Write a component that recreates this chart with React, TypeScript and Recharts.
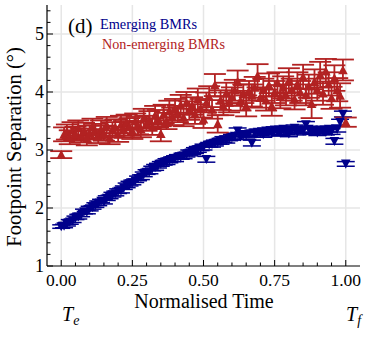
import React from 'react';
import { ScatterChart, Scatter, XAxis, YAxis, ErrorBar, ReferenceLine } from 'recharts';

const times = [
  0.00, 0.01, 0.02, 0.03, 0.04, 0.05, 0.06, 0.07, 0.08, 0.09,
  0.10, 0.11, 0.12, 0.13, 0.14, 0.15, 0.16, 0.17, 0.18, 0.19,
  0.20, 0.21, 0.22, 0.23, 0.24, 0.25, 0.26, 0.27, 0.28, 0.29,
  0.30, 0.31, 0.32, 0.33, 0.34, 0.35, 0.36, 0.37, 0.38, 0.39,
  0.40, 0.41, 0.42, 0.43, 0.44, 0.45, 0.46, 0.47, 0.48, 0.49,
  0.50, 0.51, 0.52, 0.53, 0.54, 0.55, 0.56, 0.57, 0.58, 0.59,
  0.60, 0.61, 0.62, 0.63, 0.64, 0.65, 0.66, 0.67, 0.68, 0.69,
  0.70, 0.71, 0.72, 0.73, 0.74, 0.75, 0.76, 0.77, 0.78, 0.79,
  0.80, 0.81, 0.82, 0.83, 0.84, 0.85, 0.86, 0.87, 0.88, 0.89,
  0.90, 0.91, 0.92, 0.93, 0.94, 0.95, 0.96, 0.97, 0.98, 0.99,
  1.00,
];

const emerging = [
  1.68, 1.69, 1.72, 1.76, 1.78, 1.83, 1.85, 1.88, 1.94, 1.93,
  1.99, 2.01, 2.05, 2.08, 2.12, 2.11, 2.17, 2.19, 2.23, 2.25,
  2.29, 2.30, 2.35, 2.39, 2.42, 2.44, 2.47, 2.51, 2.53, 2.58,
  2.62, 2.63, 2.68, 2.70, 2.73, 2.76, 2.78, 2.80, 2.82, 2.84,
  2.85, 2.88, 2.88, 2.90, 2.92, 2.95, 2.96, 2.99, 3.01, 3.03,
  3.05, 2.84, 3.09, 3.10, 3.12, 3.14, 3.15, 3.18, 3.17, 3.20,
  3.22, 3.24, 3.33, 3.23, 3.27, 3.26, 3.28, 3.12, 3.29, 3.31,
  3.30, 3.27, 3.33, 3.31, 3.29, 3.35, 3.32, 3.30, 3.36, 3.32,
  3.28, 3.34, 3.38, 3.31, 3.35, 3.33, 3.44, 3.36, 3.32, 3.34,
  3.30, 3.35, 3.33, 3.31, 3.36, 3.32, 3.15, 3.36, 3.48, 3.62,
  2.76,
];

const emergingErr = [
  0.03, 0.03, 0.03, 0.04, 0.03, 0.03, 0.04, 0.03, 0.04, 0.03,
  0.04, 0.03, 0.04, 0.04, 0.03, 0.04, 0.04, 0.03, 0.04, 0.04,
  0.04, 0.04, 0.03, 0.04, 0.04, 0.04, 0.03, 0.04, 0.04, 0.04,
  0.04, 0.04, 0.04, 0.05, 0.04, 0.04, 0.04, 0.05, 0.04, 0.04,
  0.05, 0.04, 0.04, 0.05, 0.04, 0.05, 0.04, 0.05, 0.05, 0.04,
  0.05, 0.05, 0.04, 0.05, 0.05, 0.04, 0.05, 0.05, 0.05, 0.04,
  0.05, 0.05, 0.05, 0.05, 0.04, 0.05, 0.05, 0.05, 0.05, 0.05,
  0.05, 0.05, 0.05, 0.04, 0.05, 0.05, 0.05, 0.05, 0.05, 0.05,
  0.05, 0.05, 0.05, 0.05, 0.05, 0.05, 0.05, 0.05, 0.05, 0.05,
  0.05, 0.05, 0.05, 0.05, 0.05, 0.05, 0.05, 0.05, 0.05, 0.05,
  0.04,
];

const nonEmerging = [
  2.92, 3.27, 3.31, 3.22, 3.34, 3.28, 3.38, 3.25, 3.33, 3.21,
  3.30, 3.40, 3.32, 3.24, 3.36, 3.29, 3.43, 3.22, 3.35, 3.39,
  3.27, 3.44, 3.36, 3.48, 3.40, 3.33, 3.50, 3.42, 3.36, 3.55,
  3.46, 3.52, 3.40, 3.60, 3.54, 3.28, 3.62, 3.50, 3.68, 3.58,
  3.72, 3.62, 3.78, 3.56, 3.82, 3.68, 3.76, 3.62, 3.88, 3.72,
  3.53, 3.82, 3.92, 3.70, 4.12, 3.45, 3.86, 3.76, 3.98, 3.82,
  3.92, 4.03, 4.18, 3.85, 3.97, 3.76, 4.02, 3.94, 4.08, 4.28,
  3.90, 4.04, 3.86, 4.12, 3.76, 4.00, 4.16, 3.92, 4.08, 3.95,
  4.20, 4.04, 3.88, 4.14, 4.00, 4.26, 3.95, 4.10, 3.80, 4.18,
  4.04, 4.30, 3.98, 4.36, 4.14, 3.90, 4.24, 4.04, 3.94, 4.38,
  3.48,
];

const nonEmergingErr = [
  0.06, 0.12, 0.13, 0.12, 0.14, 0.12, 0.13, 0.12, 0.14, 0.13,
  0.12, 0.14, 0.13, 0.12, 0.15, 0.13, 0.14, 0.12, 0.13, 0.14,
  0.13, 0.15, 0.14, 0.13, 0.15, 0.14, 0.13, 0.15, 0.14, 0.16,
  0.13, 0.15, 0.14, 0.16, 0.15, 0.13, 0.16, 0.14, 0.17, 0.15,
  0.16, 0.14, 0.17, 0.15, 0.18, 0.16, 0.15, 0.17, 0.18, 0.16,
  0.15, 0.17, 0.18, 0.16, 0.19, 0.15, 0.17, 0.16, 0.18, 0.17,
  0.16, 0.18, 0.19, 0.17, 0.16, 0.18, 0.17, 0.19, 0.18, 0.20,
  0.17, 0.19, 0.18, 0.20, 0.17, 0.19, 0.18, 0.20, 0.19, 0.18,
  0.21, 0.19, 0.18, 0.20, 0.19, 0.21, 0.18, 0.20, 0.25, 0.21,
  0.19, 0.22, 0.20, 0.21, 0.20, 0.19, 0.22, 0.20, 0.21, 0.18,
  0.08,
];

const xMajorTicks = [0, 0.25, 0.5, 0.75, 1];
const xAllTicks = [
  0, 0.05, 0.1, 0.15, 0.2, 0.25, 0.3, 0.35, 0.4, 0.45, 0.5,
  0.55, 0.6, 0.65, 0.7, 0.75, 0.8, 0.85, 0.9, 0.95, 1,
];
const xTickLabels = ['0.00', '0.25', '0.50', '0.75', '1.00'];
const yMajorTicks = [1, 2, 3, 4, 5];
const yAllTicks = [
  1, 1.2, 1.4, 1.6, 1.8, 2, 2.2, 2.4, 2.6, 2.8, 3, 3.2, 3.4, 3.6, 3.8,
  4, 4.2, 4.4, 4.6, 4.8, 5, 5.2, 5.4,
];
const yGridValues = [2, 3, 4, 5];

const RED = '#b22222';
const BLUE = '#00008b';
const FONT = 'Liberation Serif, Times New Roman, Times, serif';
const TXT: React.CSSProperties = { fontFamily: FONT };

const emergingData = times.map((t, i) => ({ t, v: emerging[i], e: emergingErr[i] }));
const nonEmergingData = times.map((t, i) => ({ t, v: nonEmerging[i], e: nonEmergingErr[i] }));

const isMajorX = (v: number) => xMajorTicks.some((m) => Math.abs(m - v) < 1e-6);
const isMajorY = (v: number) => yMajorTicks.some((m) => Math.abs(m - v) < 1e-6);

const MAJ = 6;
const MIN = 3.5;

const BottomTick = (props: any) => {
  const { x, y, payload } = props;
  const v = payload.value as number;
  const major = isMajorX(v);
  const idx = xMajorTicks.findIndex((m) => Math.abs(m - v) < 1e-6);
  return (
    <g>
      <line x1={x} x2={x} y1={y} y2={y - (major ? MAJ : MIN)} stroke="#000" strokeWidth={1} />
      {major && (
        <text x={x} y={y + 20} textAnchor="middle" fontSize={17.5} style={TXT} fill="#000">
          {xTickLabels[idx]}
        </text>
      )}
    </g>
  );
};

const TopTick = (props: any) => {
  const { x, y, payload } = props;
  const major = isMajorX(payload.value);
  return <line x1={x} x2={x} y1={y} y2={y + (major ? MAJ : MIN)} stroke="#000" strokeWidth={1} />;
};

const LeftTick = (props: any) => {
  const { x, y, payload } = props;
  const v = payload.value as number;
  const major = isMajorY(v);
  return (
    <g>
      <line x1={x} x2={x + (major ? MAJ : MIN)} y1={y} y2={y} stroke="#000" strokeWidth={1} />
      {major && (
        <text x={x - 3} y={y + 6} textAnchor="end" fontSize={18} style={TXT} fill="#000">
          {String(v)}
        </text>
      )}
    </g>
  );
};

const RightTick = (props: any) => {
  const { x, y, payload } = props;
  const major = isMajorY(payload.value);
  return <line x1={x} x2={x - (major ? MAJ : MIN)} y1={y} y2={y} stroke="#000" strokeWidth={1} />;
};

const S = 4.8;
const TriUp = (props: any) => {
  const { cx, cy } = props;
  if (cx == null || cy == null) return null;
  return <path d={`M${cx},${cy - S} L${cx + S},${cy + S * 0.9} L${cx - S},${cy + S * 0.9} Z`} fill={RED} />;
};
const TriDown = (props: any) => {
  const { cx, cy } = props;
  if (cx == null || cy == null) return null;
  return <path d={`M${cx},${cy + S} L${cx + S},${cy - S * 0.9} L${cx - S},${cy - S * 0.9} Z`} fill={BLUE} />;
};

export default function App() {
  return (
    <div style={{ position: 'absolute', left: 0, top: 0, width: 373, height: 339, background: '#fff' }}>
      <ScatterChart width={373} height={339} margin={{ top: 5, right: 13, bottom: 0, left: 0 }}>
        <XAxis
          xAxisId="b"
          type="number"
          dataKey="t"
          domain={[-0.05, 1.05]}
          ticks={xAllTicks}
          interval={0}
          height={73}
          tickSize={0}
          tickMargin={0}
          tickLine={false}
          axisLine={{ stroke: '#000', strokeWidth: 1.2 }}
          tick={<BottomTick />}
        />
        <XAxis
          xAxisId="t"
          orientation="top"
          type="number"
          dataKey="t"
          domain={[-0.05, 1.05]}
          ticks={xAllTicks}
          interval={0}
          height={0}
          tickSize={0}
          tickMargin={0}
          tickLine={false}
          axisLine={{ stroke: '#000', strokeWidth: 1.2 }}
          tick={<TopTick />}
        />
        <YAxis
          yAxisId="l"
          type="number"
          dataKey="v"
          domain={[1, 5.5]}
          ticks={yAllTicks}
          interval={0}
          width={47}
          tickSize={0}
          tickMargin={0}
          tickLine={false}
          axisLine={{ stroke: '#000', strokeWidth: 1.2 }}
          tick={<LeftTick />}
        />
        <YAxis
          yAxisId="r"
          orientation="right"
          type="number"
          dataKey="v"
          domain={[1, 5.5]}
          ticks={yAllTicks}
          interval={0}
          width={0}
          tickSize={0}
          tickMargin={0}
          tickLine={false}
          axisLine={{ stroke: '#000', strokeWidth: 1.2 }}
          tick={<RightTick />}
        />
        {xMajorTicks.map((v) => (
          <ReferenceLine key={'gx' + v} xAxisId="b" yAxisId="l" x={v} stroke="#e6e6e6" strokeWidth={1.5} />
        ))}
        {yGridValues.map((v) => (
          <ReferenceLine key={'gy' + v} xAxisId="b" yAxisId="l" y={v} stroke="#e6e6e6" strokeWidth={1.5} />
        ))}
        <Scatter
          name="Emerging BMRs"
          data={emergingData}
          xAxisId="b"
          yAxisId="l"
          fill={BLUE}
          shape={<TriDown />}
          isAnimationActive={false}
        >
          <ErrorBar dataKey="e" direction="y" width={9} stroke={BLUE} strokeWidth={1.5} />
        </Scatter>
        <Scatter
          name="Non-emerging BMRs"
          data={nonEmergingData}
          xAxisId="b"
          yAxisId="l"
          fill={RED}
          shape={<TriUp />}
          isAnimationActive={false}
        >
          <ErrorBar dataKey="e" direction="y" width={11} stroke={RED} strokeWidth={1.8} />
        </Scatter>
      </ScatterChart>
      <svg
        width={373}
        height={339}
        style={{ position: 'absolute', left: 0, top: 0, pointerEvents: 'none' }}
      >
        <text x={68} y={33} fontSize={21} style={TXT} fill="#000">(d)</text>
        <text x={100} y={29} fontSize={14.3} style={TXT} fill={BLUE}>Emerging BMRs</text>
        <text x={102} y={49} fontSize={14.2} style={TXT} fill={RED}>Non-emerging BMRs</text>
        <text x={204} y={308} textAnchor="middle" fontSize={20} style={TXT} fill="#000">
          Normalised Time
        </text>
        <text
          x={0}
          y={0}
          transform="translate(21,147) rotate(-90)"
          textAnchor="middle"
          fontSize={20.5}
          style={TXT}
          fill="#000"
        >
          Footpoint Separation (°)
        </text>
        <text x={62} y={321} fontSize={20} style={TXT} fontStyle="italic" fill="#000">
          T<tspan fontSize={14} dy={4}>e</tspan>
        </text>
        <text x={346} y={321} fontSize={20} style={TXT} fontStyle="italic" fill="#000">
          T<tspan fontSize={14} dy={4}>f</tspan>
        </text>
      </svg>
    </div>
  );
}
